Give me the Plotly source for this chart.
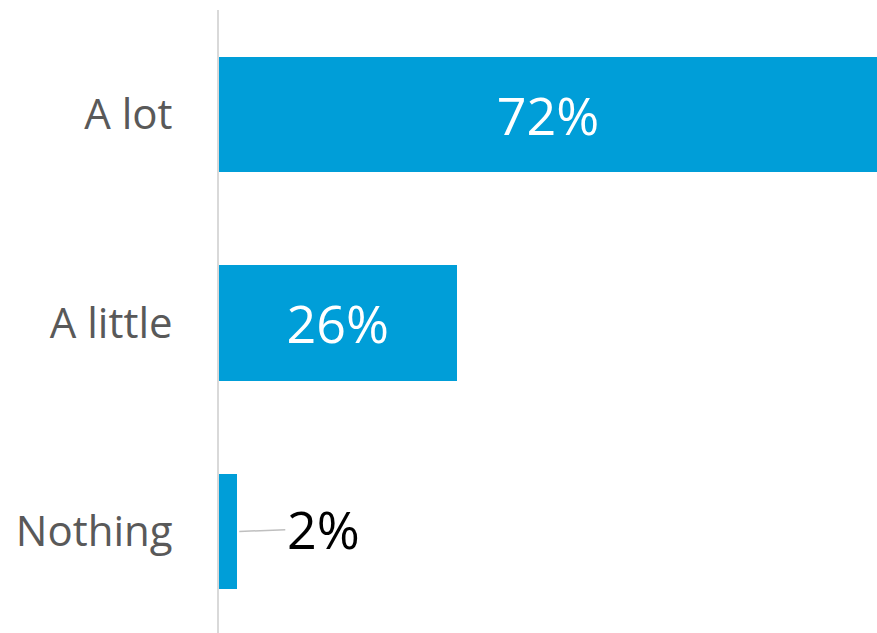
import plotly.graph_objects as go

categories = ["A lot", "A little", "Nothing"]
values = [72, 26, 2]
inside_labels = [f"{v}%" if v >= 10 else "" for v in values]

bar_color = "#009ED8"

fig = go.Figure()
fig.add_trace(go.Bar(
    x=values,
    y=categories,
    orientation="h",
    marker=dict(color=bar_color, line=dict(width=0)),
    width=0.552,
    text=inside_labels,
    textposition="inside",
    insidetextanchor="middle",
    textangle=0,
    textfont=dict(family="Open Sans", size=52, color="white"),
    hoverinfo="skip",
))

# outside label with leader line for the small bar
for cat, v in zip(categories, values):
    if v < 10:
        fig.add_annotation(
            x=v, y=cat, xref="x", yref="y",
            text=f"{v}%",
            showarrow=True, arrowhead=0, arrowwidth=1.5, arrowcolor="#BFBFBF",
            ax=86, ay=-3, standoff=2,
            font=dict(family="Open Sans", size=52, color="black"),
        )

fig.update_layout(
    width=877, height=633,
    margin=dict(l=219, r=0, t=10, b=0),
    paper_bgcolor="white", plot_bgcolor="white",
    showlegend=False,
    bargap=0,
    xaxis=dict(range=[0, 72], visible=False, fixedrange=True),
    yaxis=dict(
        type="category",
        categoryorder="array", categoryarray=categories,
        range=[2.487, -0.501],
        showline=True, linecolor="#D9D9D9", linewidth=2,
        showgrid=False, zeroline=False, fixedrange=True,
        ticks="", ticklabelstandoff=36,
        tickfont=dict(family="Open Sans", size=42, color="#595959"),
    ),
    font=dict(family="Open Sans"),
)

fig.write_html(
    "out.html",
    config={"displayModeBar": False, "staticPlot": True},
    post_script="document.body.style.margin='0';document.body.style.overflow='hidden';",
)
